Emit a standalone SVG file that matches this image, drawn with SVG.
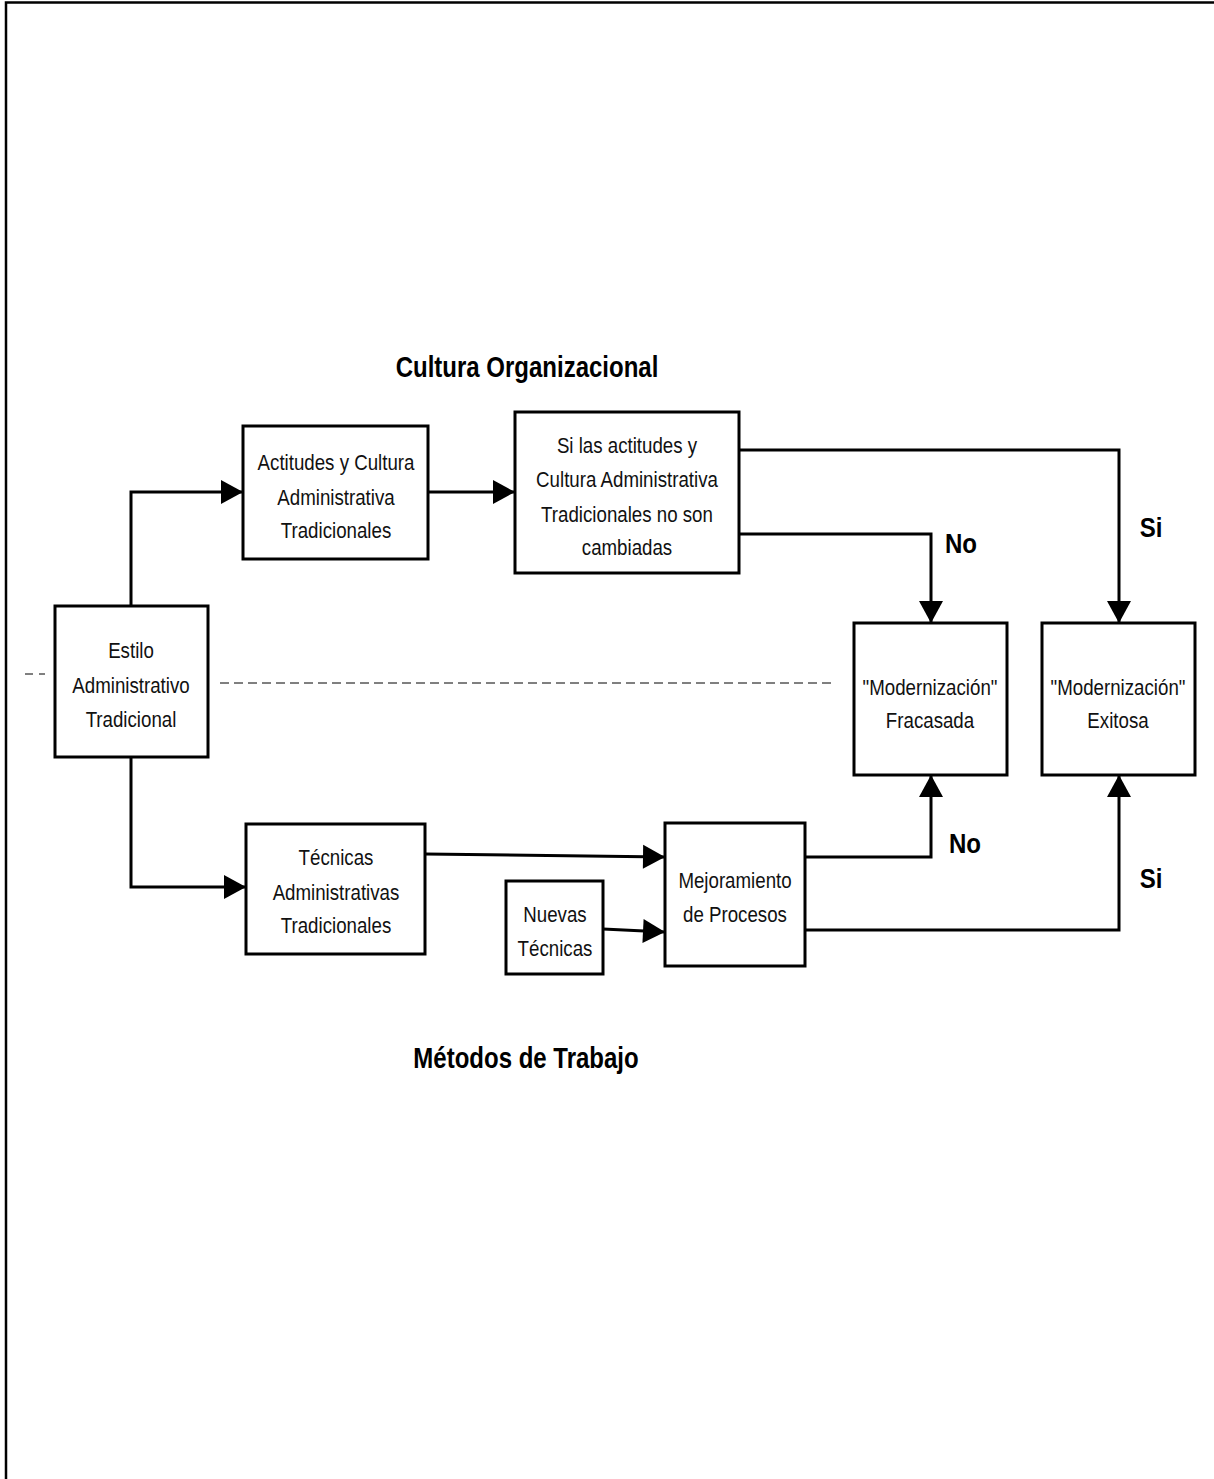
<svg xmlns="http://www.w3.org/2000/svg" width="1214" height="1479" viewBox="0 0 1214 1479">
  <defs>
    <marker id="arrow" markerUnits="userSpaceOnUse" markerWidth="23" markerHeight="25" refX="22" refY="12" orient="auto" overflow="visible">
      <path d="M0,0 L22,12 L0,24 Z" fill="#000"/>
    </marker>
    <style>
      .box { fill: #fff; stroke: #000; stroke-width: 3; }
      .link { fill: none; stroke: #000; stroke-width: 3; }
      .txt { font-family: "Liberation Sans", Arial, sans-serif; font-size: 22px; fill: #111; text-anchor: middle; }
      .lbl { font-family: "Liberation Sans", Arial, sans-serif; font-size: 28px; font-weight: bold; fill: #000; text-anchor: middle; }
      .title { font-family: "Liberation Sans", Arial, sans-serif; font-size: 30px; font-weight: bold; fill: #000; text-anchor: middle; }
    </style>
  </defs>
  <rect width="1214" height="1479" fill="#fff"/>

  <!-- page frame (top and left edges) -->
  <path d="M6,1479 V2.5 H1214" fill="none" stroke="#000" stroke-width="2.5"/>

  <!-- section titles, condensed horizontally -->
  <g transform="translate(527 0) scale(0.8 1)"><text class="title" x="0" y="377">Cultura Organizacional</text></g>
  <g transform="translate(526 0) scale(0.8 1)"><text class="title" x="0" y="1068">Métodos de Trabajo</text></g>

  <!-- dashed divider -->
  <line x1="25" y1="674" x2="45" y2="674" stroke="#000" stroke-width="1" stroke-dasharray="8,6"/>
  <line x1="220" y1="683" x2="835" y2="683" stroke="#000" stroke-width="1" stroke-dasharray="9,5"/>

  <!-- connectors -->
  <g id="connectors">
    <path class="link" d="M131,606 V492 H243" marker-end="url(#arrow)"/>
    <path class="link" d="M131,757 V887 H246" marker-end="url(#arrow)"/>
    <path class="link" d="M428,492 H515" marker-end="url(#arrow)"/>
    <path class="link" d="M739,450 H1119 V623" marker-end="url(#arrow)"/>
    <path class="link" d="M739,534 H931 V623" marker-end="url(#arrow)"/>
    <path class="link" d="M425,854 L665,857" marker-end="url(#arrow)"/>
    <path class="link" d="M603,929 L665,932" marker-end="url(#arrow)"/>
    <path class="link" d="M805,857 H931 V775" marker-end="url(#arrow)"/>
    <path class="link" d="M805,930 H1119 V775" marker-end="url(#arrow)"/>
  </g>

  <!-- branch labels -->
  <g transform="translate(961 0) scale(0.86 1)"><text class="lbl" x="0" y="553">No</text></g>
  <g transform="translate(1151 0) scale(0.86 1)"><text class="lbl" x="0" y="537">Si</text></g>
  <g transform="translate(965 0) scale(0.86 1)"><text class="lbl" x="0" y="853">No</text></g>
  <g transform="translate(1151 0) scale(0.86 1)"><text class="lbl" x="0" y="888">Si</text></g>

  <g id="estilo">
    <rect class="box" x="55" y="606" width="153" height="151"/>
    <g transform="translate(131 0) scale(0.85 1)">
      <text class="txt" x="0" y="658">Estilo</text>
      <text class="txt" x="0" y="693">Administrativo</text>
      <text class="txt" x="0" y="727">Tradicional</text>
    </g>
  </g>

  <g id="actitudes">
    <rect class="box" x="243" y="426" width="185" height="133"/>
    <g transform="translate(336 0) scale(0.85 1)">
      <text class="txt" x="0" y="470">Actitudes y Cultura</text>
      <text class="txt" x="0" y="505">Administrativa</text>
      <text class="txt" x="0" y="538">Tradicionales</text>
    </g>
  </g>

  <g id="condicion">
    <rect class="box" x="515" y="412" width="224" height="161"/>
    <g transform="translate(627 0) scale(0.85 1)">
      <text class="txt" x="0" y="453">Si las actitudes y</text>
      <text class="txt" x="0" y="487">Cultura Administrativa</text>
      <text class="txt" x="0" y="522">Tradicionales no son</text>
      <text class="txt" x="0" y="555">cambiadas</text>
    </g>
  </g>

  <g id="fracasada">
    <rect class="box" x="854" y="623" width="153" height="152"/>
    <g transform="translate(930 0) scale(0.85 1)">
      <text class="txt" x="0" y="695">"Modernización"</text>
      <text class="txt" x="0" y="728">Fracasada</text>
    </g>
  </g>

  <g id="exitosa">
    <rect class="box" x="1042" y="623" width="153" height="152"/>
    <g transform="translate(1118 0) scale(0.85 1)">
      <text class="txt" x="0" y="695">"Modernización"</text>
      <text class="txt" x="0" y="728">Exitosa</text>
    </g>
  </g>

  <g id="tecnicas">
    <rect class="box" x="246" y="824" width="179" height="130"/>
    <g transform="translate(336 0) scale(0.85 1)">
      <text class="txt" x="0" y="865">Técnicas</text>
      <text class="txt" x="0" y="900">Administrativas</text>
      <text class="txt" x="0" y="933">Tradicionales</text>
    </g>
  </g>

  <g id="nuevas">
    <rect class="box" x="506" y="881" width="97" height="93"/>
    <g transform="translate(555 0) scale(0.85 1)">
      <text class="txt" x="0" y="922">Nuevas</text>
      <text class="txt" x="0" y="956">Técnicas</text>
    </g>
  </g>

  <g id="mejoramiento">
    <rect class="box" x="665" y="823" width="140" height="143"/>
    <g transform="translate(735 0) scale(0.85 1)">
      <text class="txt" x="0" y="888">Mejoramiento</text>
      <text class="txt" x="0" y="922">de Procesos</text>
    </g>
  </g>
</svg>
